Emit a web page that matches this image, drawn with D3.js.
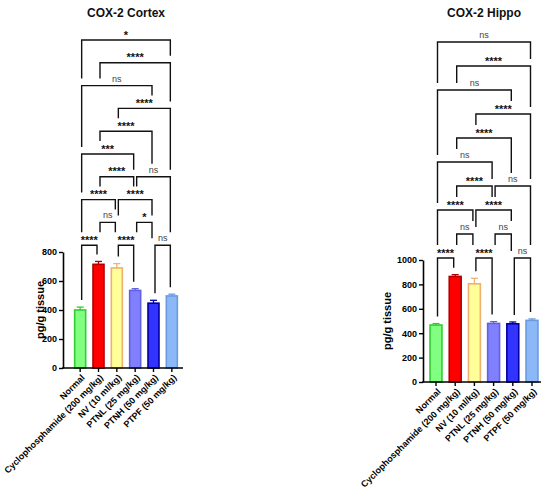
<!DOCTYPE html>
<html>
<head>
<meta charset="utf-8">
<script src="https://cdn.jsdelivr.net/npm/d3@7"></script>
<style>
  html, body { margin: 0; padding: 0; background: #fff; }
  svg { display: block; font-family: "Liberation Sans", Arial, sans-serif; }
</style>
</head>
<body>
<svg id="chart" width="550" height="499"></svg>
<script>
// ---------------- data ----------------
const categories = ["Normal", "Cyclophosphamide (200 mg/kg)", "NV (10 ml/kg)",
                    "PTNL (25 mg/kg)", "PTNH (50 mg/kg)", "PTPF (50 mg/kg)"];

const cortexMeans  = [400, 715, 690, 535, 447, 497];
const cortexErrors = [20, 20, 30, 12, 20, 12];
const cortexTicks  = [0, 200, 400, 600, 800];

const hippoMeans  = [467, 865, 805, 480, 477, 505];
const hippoErrors = [12, 15, 45, 15, 15, 12];
const hippoTicks  = [0, 200, 400, 600, 800, 1000];

// comparison rows, top row first: [groupA index, groupB index, significance]
const cortexComparisons = [
  [[0, 5, "*"]],
  [[1, 5, "****"]],
  [[0, 4, "ns"]],
  [[2, 5, "****"]],
  [[1, 4, "****"]],
  [[0, 3, "***"]],
  [[1, 3, "****"], [3, 5, "ns"]],
  [[0, 2, "****"], [2, 4, "****"]],
  [[1, 2, "ns"], [3, 4, "*"]],
  [[0, 1, "****"], [2, 3, "****"], [4, 5, "ns"]]
];
const hippoComparisons = [
  [[0, 5, "ns"]],
  [[1, 5, "****"]],
  [[0, 4, "ns"]],
  [[2, 5, "****"]],
  [[1, 4, "****"]],
  [[0, 3, "ns"]],
  [[1, 3, "****"], [3, 5, "ns"]],
  [[0, 2, "****"], [2, 4, "****"]],
  [[1, 2, "ns"], [3, 4, "ns"]],
  [[0, 1, "****"], [2, 3, "****"], [4, 5, "ns"]]
];

// ---------------- styles ----------------
const fills   = ["#80ff80", "#ff0000", "#ffff99", "#8080ff", "#3333ff", "#8cb8f8"];
const strokes = ["#33cc33", "#b00000", "#f0b070", "#6060e0", "#0000a0", "#6a9ae0"];

const svg = d3.select("#chart");

function drawPanel(p) {
  const g = svg.append("g");
  const x = d3.scaleBand().domain(categories).range([p.x0, p.x1]).paddingInner(p.pad).paddingOuter(p.pad / 2);
  const y = d3.scaleLinear().domain([0, p.yMax]).range([p.yBottom, p.yTop]);
  const cx = i => x(categories[i]) + x.bandwidth() / 2;

  // title
  g.append("text").attr("x", p.titleX).attr("y", 17).attr("text-anchor", "middle")
    .attr("font-size", 12).attr("font-weight", "bold").attr("fill", "#111").text(p.title);

  // bars
  g.selectAll("rect.bar").data(p.means).join("rect").attr("class", "bar")
    .attr("x", (d, i) => x(categories[i]))
    .attr("y", d => y(d))
    .attr("width", x.bandwidth())
    .attr("height", d => y(0) - y(d))
    .attr("fill", (d, i) => fills[i])
    .attr("stroke", (d, i) => strokes[i])
    .attr("stroke-width", 1.6);

  // error bars (upper)
  p.means.forEach((m, i) => {
    const top = y(m + p.errors[i]);
    g.append("line").attr("x1", cx(i)).attr("x2", cx(i)).attr("y1", y(m)).attr("y2", top)
      .attr("stroke", strokes[i]).attr("stroke-width", 1.3);
    g.append("line").attr("x1", cx(i) - 3.5).attr("x2", cx(i) + 3.5).attr("y1", top).attr("y2", top)
      .attr("stroke", strokes[i]).attr("stroke-width", 1.3);
  });

  // y axis
  const ya = g.append("g").attr("transform", `translate(${p.axisX},0)`)
    .call(d3.axisLeft(y).tickValues(p.ticks).tickFormat(d3.format("d"))
      .tickSize(4).tickSizeOuter(0).tickPadding(2));
  ya.select(".domain").attr("stroke", "#000").attr("stroke-width", 1.6);
  ya.selectAll(".tick line").attr("stroke", "#000").attr("stroke-width", 1.4);
  ya.selectAll(".tick text").attr("font-size", 9).attr("font-weight", "bold")
    .attr("font-family", "Liberation Sans, Arial, sans-serif").attr("fill", "#000");

  // x axis
  const xa = g.append("g").attr("transform", `translate(0,${p.yBottom})`)
    .call(d3.axisBottom(x).tickSize(4).tickSizeOuter(0).tickFormat(""));
  xa.select(".domain").remove();
  xa.selectAll(".tick line").attr("stroke", "#000").attr("stroke-width", 1.4);
  g.append("line").attr("x1", p.axisX - 0.8).attr("x2", p.axisEnd).attr("y1", p.yBottom).attr("y2", p.yBottom)
    .attr("stroke", "#000").attr("stroke-width", 1.6);

  // x labels
  categories.forEach((c, i) => {
    g.append("text")
      .attr("transform", `translate(${cx(i) + 3},${p.yBottom + 8}) rotate(-45)`)
      .attr("text-anchor", "end").attr("dy", "0.35em")
      .attr("font-size", 9).attr("font-weight", "bold").attr("fill", "#000").text(c);
  });

  // y label
  g.append("text")
    .attr("transform", `translate(${p.ylabelX},${(p.yTop + p.yBottom) / 2}) rotate(-90)`)
    .attr("text-anchor", "middle").attr("dy", "0.35em")
    .attr("font-size", 11).attr("font-weight", "bold").attr("fill", "#000").text("pg/g tissue");

  // significance brackets
  const rows = p.comps;
  const rowY = k => p.bTop + k * p.bStep;
  const endX = (i, side) => cx(i) + (side === "a" ? 1.5 : -1.5);
  const labelW = s => s === "ns" ? 9.5 : s.length * 4.4;

  function legStop(i, k, lx) {
    for (let k2 = k + 1; k2 < rows.length; k2++) {
      for (const [a, b, s] of rows[k2]) {
        if (a <= i && i <= b) {
          const mid = (endX(a, "a") + endX(b, "b")) / 2;
          const half = labelW(s) / 2 + 4;
          return Math.abs(lx - mid) <= half ? rowY(k2) - 13 : rowY(k2) - 7;
        }
      }
    }
    return y(p.means[i] + p.errors[i]) - 7;
  }

  rows.forEach((row, k) => {
    const yy = rowY(k);
    row.forEach(([a, b, s]) => {
      const xa1 = endX(a, "a"), xb1 = endX(b, "b");
      const path = d3.path();
      path.moveTo(xa1, legStop(a, k, xa1));
      path.lineTo(xa1, yy);
      path.lineTo(xb1, yy);
      path.lineTo(xb1, legStop(b, k, xb1));
      g.append("path").attr("d", path.toString()).attr("fill", "none")
        .attr("stroke", "#111").attr("stroke-width", 1.4);
      const isNs = s === "ns";
      g.append("text").attr("x", (xa1 + xb1) / 2).attr("y", isNs ? yy - 4 : yy - 1.5)
        .attr("text-anchor", "middle")
        .attr("font-size", isNs ? 9 : 11).attr("font-weight", isNs ? "normal" : "bold")
        .attr("fill", isNs ? "#444" : "#111").text(s);
    });
  });
}

drawPanel({
  title: "COX-2 Cortex", titleX: 126, means: cortexMeans, errors: cortexErrors, ticks: cortexTicks,
  yMax: 800, yTop: 252, yBottom: 368, x0: 71, x1: 181, pad: 0.4, axisX: 63, axisEnd: 183,
  ylabelX: 40, bTop: 40, bStep: 22.8, comps: cortexComparisons
});
drawPanel({
  title: "COX-2 Hippo", titleX: 484, means: hippoMeans, errors: hippoErrors, ticks: hippoTicks,
  yMax: 1000, yTop: 260, yBottom: 382, x0: 426.4, x1: 541.6, pad: 0.38, axisX: 423, axisEnd: 541,
  ylabelX: 387, bTop: 42, bStep: 24, comps: hippoComparisons
});
</script>
</body>
</html>
